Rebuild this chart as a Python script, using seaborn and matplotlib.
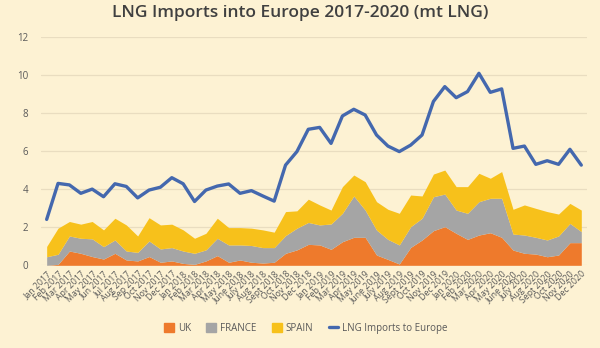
import numpy as np
import pandas as pd
import matplotlib
matplotlib.use("Agg")
import matplotlib.pyplot as plt
import seaborn as sns
from matplotlib.patches import Patch
from matplotlib.lines import Line2D

months = (["Jan 2017", "Feb 2017", "Mar 2017", "Apr 2017", "May 2017", "Jun 2017",
           "Jul 2017", "Aug 2017", "Sep 2017", "Oct 2017", "Nov 2017", "Dec 2017"] +
          ["Jan 2018", "Feb 2018", "Mar 2018", "Apr 2018", "May 2018", "June 2018",
           "July 2018", "Aug 2018", "Sept 2018", "Oct 2018", "Nov 2018", "Dec 2018"] +
          ["Jan 2019", "Feb 2019", "Mar 2019", "Apr 2019", "May 2019", "June 2019",
           "July 2019", "Aug 2019", "Sept 2019", "Oct 2019", "Nov 2019", "Dec 2019"] +
          ["Jan 2020", "Feb 2020", "Mar 2020", "Apr 2020", "May 2020", "June 2020",
           "July 2020", "Aug 2020", "Sept 2020", "Oct 2020", "Nov 2020", "Dec 2020"])

uk = [0.00, 0.05, 0.75, 0.63, 0.46, 0.33, 0.63, 0.28, 0.23, 0.46, 0.16, 0.23,
      0.10, 0.05, 0.23, 0.51, 0.16, 0.28, 0.16, 0.12, 0.16, 0.63, 0.81, 1.10,
      1.07, 0.84, 1.24, 1.47, 1.47, 0.54, 0.31, 0.07, 0.94, 1.33, 1.82, 2.03,
      1.68, 1.36, 1.59, 1.71, 1.47, 0.80, 0.63, 0.59, 0.45, 0.54, 1.19, 1.19]
france = [0.45, 0.53, 0.79, 0.79, 0.93, 0.65, 0.70, 0.47, 0.45, 0.82, 0.70, 0.70,
          0.65, 0.58, 0.58, 0.91, 0.91, 0.79, 0.88, 0.81, 0.77, 0.93, 1.14, 1.15,
          1.05, 1.33, 1.49, 2.17, 1.43, 1.31, 1.05, 1.00, 1.09, 1.14, 1.78, 1.71,
          1.22, 1.37, 1.75, 1.81, 2.05, 0.84, 0.96, 0.88, 0.88, 1.00, 1.01, 0.58]
spain = [0.54, 1.37, 0.76, 0.74, 0.91, 0.88, 1.14, 1.37, 0.86, 1.22, 1.26, 1.23,
         1.11, 0.79, 0.87, 1.05, 0.91, 0.91, 0.91, 0.93, 0.81, 1.26, 0.91, 1.22,
         1.05, 0.73, 1.40, 1.10, 1.49, 1.49, 1.58, 1.66, 1.66, 1.17, 1.19, 1.26,
         1.23, 1.40, 1.49, 1.05, 1.40, 1.30, 1.58, 1.52, 1.49, 1.15, 1.05, 1.13]
europe = [2.41, 4.30, 4.22, 3.78, 4.00, 3.60, 4.28, 4.14, 3.54, 3.95, 4.10, 4.60,
          4.28, 3.35, 3.95, 4.16, 4.27, 3.78, 3.92, 3.64, 3.37, 5.26, 5.97, 7.14,
          7.24, 6.40, 7.84, 8.19, 7.89, 6.84, 6.26, 5.97, 6.31, 6.84, 8.60, 9.38,
          8.80, 9.12, 10.08, 9.08, 9.26, 6.14, 6.26, 5.30, 5.49, 5.30, 6.09, 5.26]
y_ticks = [0, 2, 4, 6, 8, 10, 12]

bg = "#FDF2D3"
c_uk = "#EE7A2C"
c_fr = "#A5A5A5"
c_sp = "#F7C11B"
c_line = "#4468AE"
txt = "#595959"

sns.set_theme(style="white")
plt.rcParams["font.family"] = ["Open Sans", "DejaVu Sans"]

df = pd.DataFrame({"month": months, "UK": uk, "FRANCE": france, "SPAIN": spain,
                   "LNG Imports to Europe": europe})
df["idx"] = np.arange(len(df))

fig = plt.figure(figsize=(6.0, 3.48), dpi=100, facecolor=bg)
ax = fig.add_axes([0.0683, 0.2376, 0.9100, 0.6569])
ax.set_facecolor(bg)

for t in y_ticks[1:]:
    ax.axhline(t, color="#E9DDC0", lw=0.9, zorder=0)

ax.stackplot(df["idx"], df["UK"], df["FRANCE"], df["SPAIN"],
             colors=[c_uk, c_fr, c_sp], zorder=2, linewidth=0)
sns.lineplot(data=df, x="idx", y="LNG Imports to Europe", ax=ax, color=c_line,
             lw=2.4, zorder=3, legend=False)
ax.axhline(0, color="#D9D0BA", lw=0.8, zorder=1)

ax.set_xlim(-0.5, len(months) - 0.5)
ax.set_ylim(0, 12)
ax.set_yticks(y_ticks)
ax.set_yticklabels([str(t) for t in y_ticks], fontsize=7, color=txt)
ax.set_xticks(df["idx"])
ax.set_xticklabels(months, rotation=45, ha="right", rotation_mode="anchor",
                   fontsize=6.3, color=txt)
ax.tick_params(axis="both", length=0, pad=3)
ax.tick_params(axis="y", pad=9)
ax.set_xlabel("")
ax.set_ylabel("")
for s in ax.spines.values():
    s.set_visible(False)

fig.suptitle("LNG Imports into Europe 2017-2020 (mt LNG)", x=0.5, y=0.985,
             fontsize=12.5, fontweight="semibold", color="#404040")

handles = [Patch(color=c_uk, label="UK"), Patch(color=c_fr, label="FRANCE"),
           Patch(color=c_sp, label="SPAIN"),
           Line2D([0], [0], color=c_line, lw=2.4, label="LNG Imports to Europe")]
fig.legend(handles=handles, loc="center", bbox_to_anchor=(0.51, 0.057), ncol=4,
           frameon=False, fontsize=7, labelcolor=txt, handlelength=1.0,
           handleheight=1.0, handletextpad=0.4, columnspacing=1.6)

fig.savefig("out.png", dpi=100, facecolor=bg)
